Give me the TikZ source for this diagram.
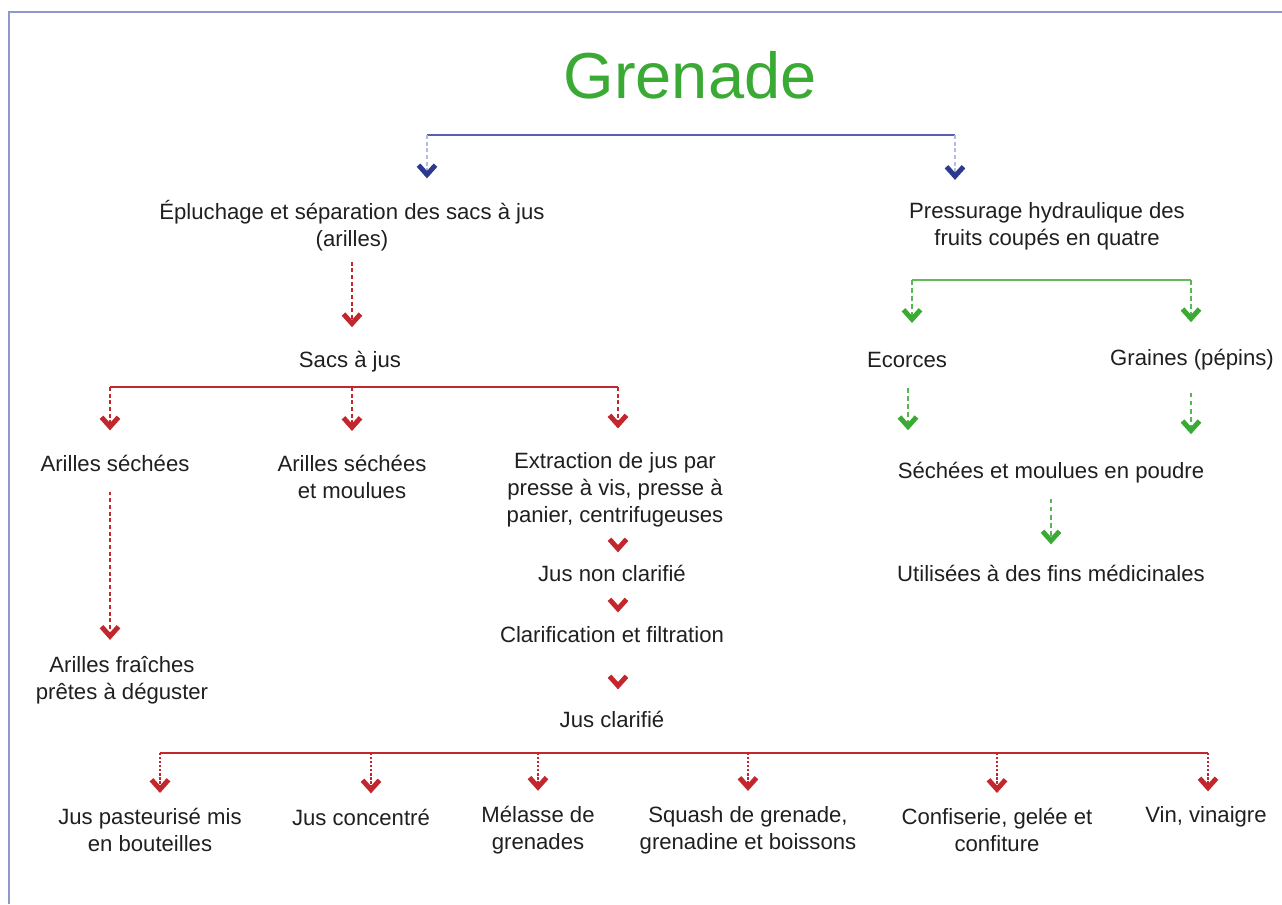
\documentclass[tikz,border=0pt]{standalone}
\usepackage{fontspec}
\setmainfont{Liberation Sans}
\usetikzlibrary{arrows.meta}
\definecolor{gvert}{HTML}{3AAA35}
\definecolor{grouge}{HTML}{C1272D}
\definecolor{gbleu}{HTML}{2B3A8F}
\definecolor{bleubar}{HTML}{5560B0}
\definecolor{bleupale}{HTML}{B4BAE0}
\definecolor{cadre}{HTML}{8F98CC}
\tikzset{
  txt/.style={font=\fontsize{12.6}{15.3}\selectfont, align=center, inner sep=0pt, text=black!88},
  titre/.style={font=\fontsize{37}{44}\selectfont, text=gvert, inner sep=0pt},
  chev/.style={-{Straight Barb[length=0.19cm,width=0.34cm,line width=2.8pt,color=#1]}},
  bar/.style={line width=0.6pt},
  drop/.style={line width=0.7pt, dash pattern=on 2.2pt off 1.6pt},
  tiponly/.style={dash pattern=on 0pt off 60pt},
  bluebar/.style={bar, bleubar},
  bluedrop/.style={drop, bleupale, chev=gbleu, shorten >=0.44cm},
  redbar/.style={bar, grouge},
  reddrop/.style={drop, grouge, chev=grouge, shorten >=0.48cm},
  greenbar/.style={bar, gvert!80},
  greendrop/.style={drop, gvert!85, chev=gvert, dash pattern=on 2.6pt off 2pt},
}
\begin{document}
\begin{tikzpicture}[x=0.02cm,y=-0.02cm]
	\useasboundingbox (0,0) rectangle (1282,904);
	\draw[cadre, line width=0.6pt] (9,904) -- (9,12) -- (1282,12);
	\node[titre] (gren) at (690,75) {Grenade};
	% deux procedes
	\node[txt] (peel) at (352,226) {Épluchage et séparation des sacs à jus\\(arilles)};
	\node[txt] (press) at (1047,226) {Pressurage hydraulique des\\fruits coupés en quatre};
	\coordinate (bl) at (427,135); \coordinate (br) at (955,135);
	\draw[bluebar] (bl) -- (br);
	\draw[bluedrop] (bl) -- (bl |- peel.north);
	\draw[bluedrop] (br) -- (br |- press.north);
	% branche des arilles
	\node[txt] (sacs) at (350,362) {Sacs à jus};
	\draw[reddrop, shorten <=0.2cm] (peel.south) -- (peel.south |- sacs.north);
	\node[txt] (dried) at (115,463) {Arilles séchées};
	\node[txt] (ground) at (352,477) {Arilles séchées\\et moulues};
	\node[txt] (extract) at (615,490) {Extraction de jus par\\presse à vis, presse à\\panier, centrifugeuses};
	\coordinate (sl) at (110,387); \coordinate (sm) at (352,387); \coordinate (sr) at (618,387);
	\draw[redbar] (sl) -- (sr);
	\foreach \c/\n in {sl/dried, sm/ground, sr/extract}{\draw[reddrop] (\c) -- (\c |- \n.north);}
	\node[txt] (fresh) at (122,680) {Arilles fraîches\\prêtes à déguster};
	\draw[reddrop, shorten <=0.4cm, shorten >=0.32cm] (dried.south -| sl) -- (sl |- fresh.north);
	% chaine du jus
	\node[txt] (jnc) at (612,573) {Jus non clarifié};
	\node[txt] (clarif) at (612,635) {Clarification et filtration};
	\node[txt] (jc) at (612,719) {Jus clarifié};
	\draw[tiponly, chev=grouge, shorten >=0.24cm] (extract.south -| sr) -- (sr |- jnc.north);
	\draw[tiponly, chev=grouge, shorten >=0.28cm] (jnc.south -| sr) -- (sr |- clarif.north);
	\draw[tiponly, chev=grouge, shorten >=0.42cm] (clarif.south -| sr) -- (sr |- jc.north);
	% produits
	\node[txt] (past) at (150,830) {Jus pasteurisé mis\\en bouteilles};
	\node[txt] (conc) at (361,817) {Jus concentré};
	\node[txt] (mel) at (538,830) {Mélasse de\\grenades};
	\node[txt] (squash) at (748,830) {Squash de grenade,\\grenadine et boissons};
	\node[txt] (conf) at (997,830) {Confiserie, gelée et\\confiture};
	\node[txt] (vin) at (1206,817) {Vin, vinaigre};
	\draw[redbar] (160,753) -- (1208,753);
	\foreach \n/\x in {past/160, conc/371, mel/538, squash/748, conf/997, vin/1208}{
		\coordinate (d\n) at (\x,753);
		\draw[reddrop, dash pattern=on 1.3pt off 1pt, shorten >=0.3cm] (d\n) -- (d\n |- \n.north);
	}
	% branche du pressurage
	\node[txt] (ecorce) at (907,360) {Ecorces};
	\node[txt] (graine) at (1192,360) {Graines (pépins)};
	\coordinate (gl) at (912,280); \coordinate (gr) at (1191,280);
	\draw[greenbar] (gl) -- (gr);
	\draw[greendrop, shorten >=0.58cm] (gl) -- (gl |- ecorce.north);
	\draw[greendrop, shorten >=0.54cm] (gr) -- (gr |- graine.north);
	\node[txt] (poudre) at (1051,473) {Séchées et moulues en poudre};
	\node[txt] (medic) at (1051,573) {Utilisées à des fins médicinales};
	\draw[greendrop, shorten <=0.4cm, shorten >=0.64cm] (ecorce.south -| 908,0) -- (908,0 |- poudre.north);
	\draw[greendrop, shorten <=0.44cm, shorten >=0.56cm] (graine.south -| gr) -- (gr |- poudre.north);
	\draw[greendrop, shorten <=0.3cm, shorten >=0.4cm] (poudre.south) -- (medic.north);
\end{tikzpicture}
\end{document}
